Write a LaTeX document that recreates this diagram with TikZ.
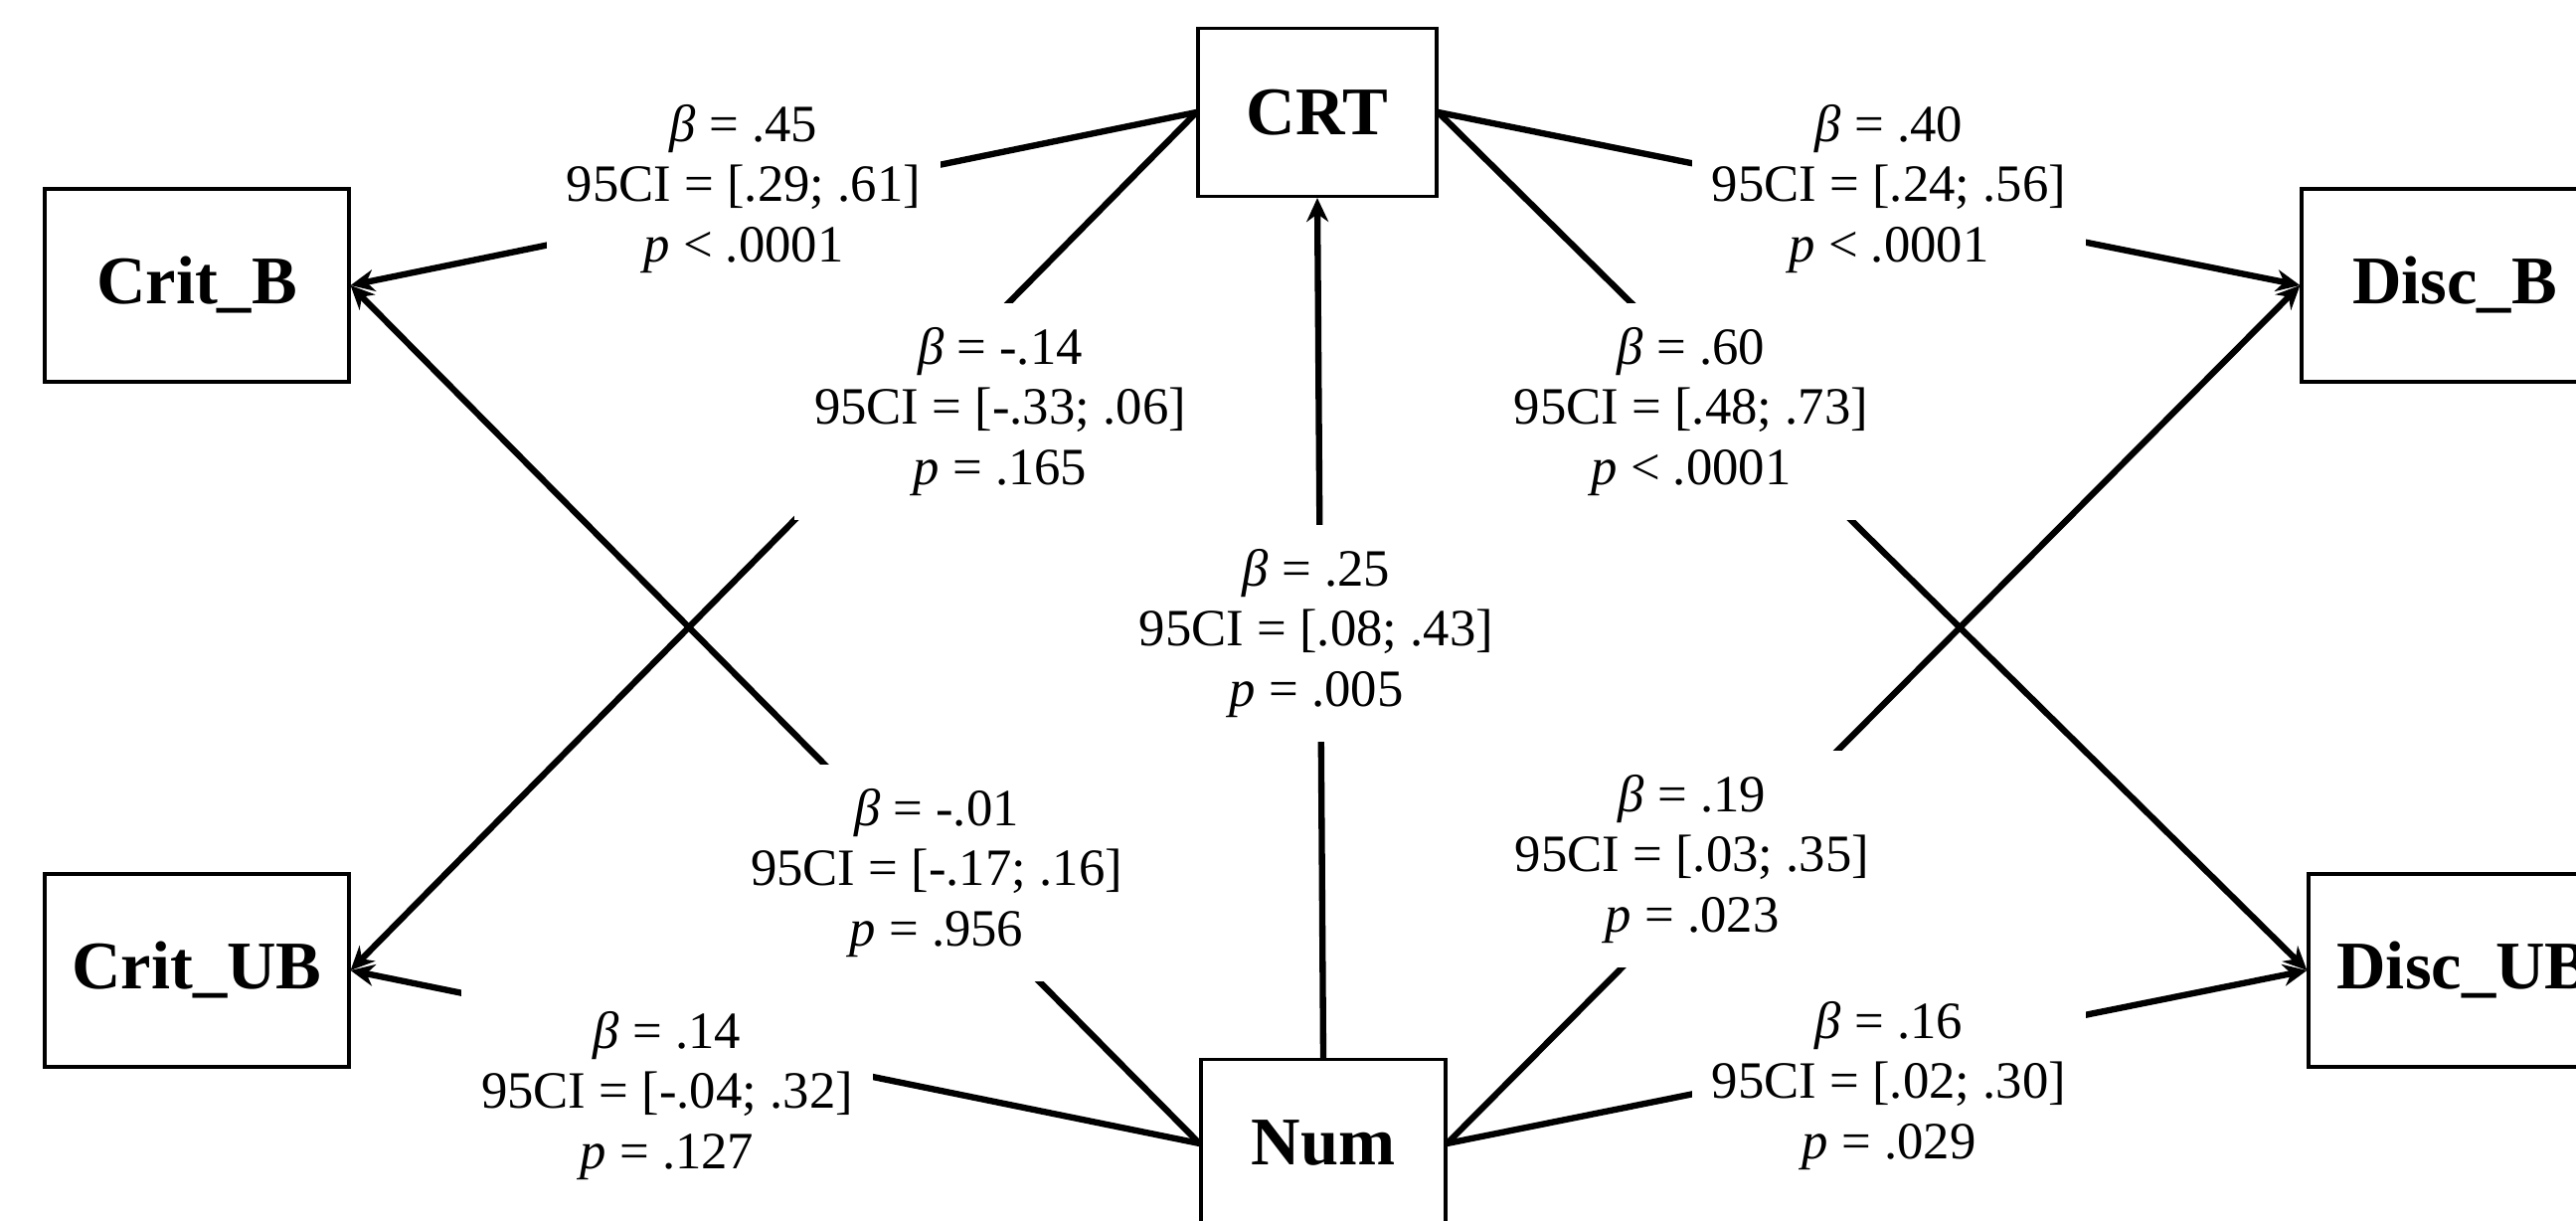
\documentclass[tikz,border=0pt]{standalone}
\usepackage{fontspec}
\setmainfont{Liberation Serif}
\usetikzlibrary{arrows.meta,positioning}

\begin{document}
\begin{tikzpicture}[
  var/.style={draw,line width=0.9pt,minimum width=3.06cm,minimum height=1.94cm,inner sep=1pt,font=\fontsize{19.5}{22}\selectfont\bfseries},
  mid/.style={var,minimum width=2.4cm,minimum height=1.69cm},
  est/.style={fill=white,align=center,inner xsep=0.2cm,inner ysep=0.24cm,font=\fontsize{15}{17.3}\selectfont},
  link/.style={->,line width=1.8pt},
  >={Stealth[length=2.4mm,width=2.2mm]}
]
\useasboundingbox (0,0) rectangle (25.91,12.28);
\clip (0,0) rectangle (25.91,12.28);
% the variables
\node[mid] (crt) at (13.25,11.15) {CRT};
\node[mid,minimum width=2.46cm] (num) at (13.31,0.78) {Num};
\node[var] (critb) at (1.98,9.41) {Crit\_B};
\node[var] (critub) at (1.98,2.52) {Crit\_UB};
\node[var,minimum width=3.08cm] (discb) at (24.69,9.41) {Disc\_B};
\node[var,minimum width=3.12cm] (discub) at (24.78,2.52) {Disc\_UB};
% the paths
\draw[link] (crt.west) -- (critb.east);
\draw[link] (crt.west) -- (critub.east);
\draw[link] (crt.east) -- (discb.west);
\draw[link] (crt.east) -- (discub.west);
\draw[link] (num.north) -- (crt.south);
\draw[link] (num.west) -- (critb.east);
\draw[link] (num.west) -- (critub.east);
\draw[link] (num.east) -- (discb.west);
\draw[link] (num.east) -- (discub.west);
% the estimates
\node[est] (e1) at (7.48,10.38) {\textit{β} = .45\\95CI = [.29; .61]\\\textit{p} < .0001};
\node[est] (e2) at (10.06,8.14) {\textit{β} = -.14\\95CI = [-.33; .06]\\\textit{p} = .165};
\node[est] (e3) at (19.00,10.38) {\textit{β} = .40\\95CI = [.24; .56]\\\textit{p} < .0001};
\node[est] (e4) at (17.01,8.14) {\textit{β} = .60\\95CI = [.48; .73]\\\textit{p} < .0001};
\node[est] (e5) at (13.24,5.91) {\textit{β} = .25\\95CI = [.08; .43]\\\textit{p} = .005};
\node[est] (e6) at (9.42,3.50) {\textit{β} = -.01\\95CI = [-.17; .16]\\\textit{p} = .956};
\node[est] (e7) at (6.71,1.26) {\textit{β} = .14\\95CI = [-.04; .32]\\\textit{p} = .127};
\node[est] (e8) at (17.02,3.64) {\textit{β} = .19\\95CI = [.03; .35]\\\textit{p} = .023};
\node[est] (e9) at (19.00,1.36) {\textit{β} = .16\\95CI = [.02; .30]\\\textit{p} = .029};
\end{tikzpicture}
\end{document}
